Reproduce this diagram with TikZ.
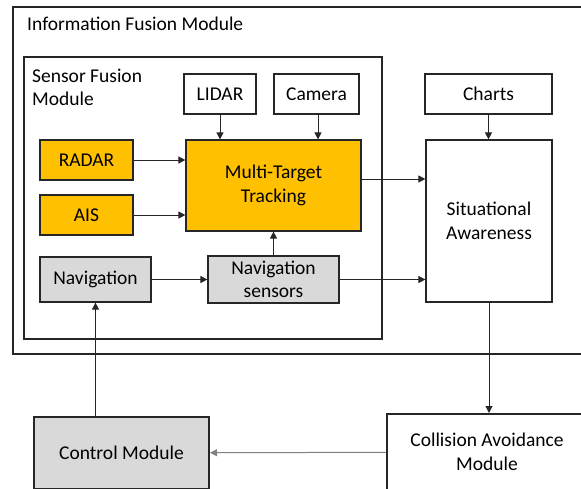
\documentclass[tikz,border=0pt]{standalone}
\usepackage{fontspec}
\setmainfont{Carlito}
\usetikzlibrary{arrows.meta,calc}
\usepackage{xcolor}
\definecolor{FusionOrange}{HTML}{FFC000}
\definecolor{FusionGrey}{HTML}{D9D9D9}
\definecolor{FusionLine}{HTML}{262626}

\begin{document}
\begin{tikzpicture}[>={Triangle[length=7pt,width=7pt]},x=1pt,y=-1pt,
    font=\fontsize{19.5}{23.5}\selectfont,
    box/.style={draw=FusionLine,line width=1.2pt,fill=white,align=center,inner sep=0pt},
    orangebox/.style={box,fill=FusionOrange},
    greybox/.style={box,fill=FusionGrey},
    modbox/.style={box,line width=2pt},
    link/.style={->,draw=FusionLine,line width=1pt}]
  \clip (0,0) rectangle (581,488);
  \useasboundingbox (0,0) rectangle (581,488);
  % module frames
  \draw[FusionLine,line width=2.2pt] (13,7) rectangle (620,354);
  \node[anchor=west,inner sep=0pt] (infotitle) at (27,24) {Information Fusion Module};
  \draw[FusionLine,line width=1.2pt] (24,57) rectangle (382,339);
  \node[anchor=west,align=left,inner sep=0pt] (sensortitle) at (32,87.5) {Sensor Fusion\\Module};
  % sensors and tracking
  \node[box,minimum width=72,minimum height=40] (lidar) at (220,94) {LIDAR};
  \node[box,minimum width=85,minimum height=40] (camera) at (316.5,94) {Camera};
  \node[box,minimum width=127,minimum height=40] (charts) at (488.5,94) {Charts};
  \node[orangebox,minimum width=93,minimum height=40] (radar) at (86.5,160) {RADAR};
  \node[orangebox,minimum width=93,minimum height=40] (ais) at (86.5,215) {AIS};
  \node[orangebox,minimum width=175,minimum height=91] (mtt) at (273.5,185.5) {Multi-Target\\Tracking};
  \node[box,minimum width=126,minimum height=162] (sa) at (489,221) {Situational\\Awareness};
  \node[greybox,minimum width=111,minimum height=45] (nav) at (95.5,279.5) {Navigation};
  \node[greybox,minimum width=131,minimum height=47] (navsens) at (273.5,279.5) {Navigation\\sensors};
  % lower modules
  \node[modbox,fill=FusionGrey,minimum width=175,minimum height=72] (control) at (121.5,453) {Control Module};
  \node[modbox,minimum width=200,minimum height=76] (collision) at (487,452) {Collision Avoidance\\Module};
  % connectors
  \draw[link] (lidar) -- (lidar |- mtt.north);
  \draw[link] ($(camera.south)+(1.5,0)$) -- ($(camera.south |- mtt.north)+(1.5,0)$);
  \draw[link] (charts) -- (charts |- sa.north);
  \draw[link] (radar) -- (radar -| mtt.west);
  \draw[link] (ais) -- (ais -| mtt.west);
  \draw[link] ($(mtt.east)+(0,-6.5)$) -- ($(mtt.east -| sa.west)+(0,-6.5)$);
  \draw[link] (navsens) -- (navsens -| sa.west);
  \draw[link] (nav) -- (navsens);
  \draw[link] (navsens) -- (mtt);
  \draw[link] (sa) -- (sa |- collision.north);
  \draw[link,draw=gray] (collision) -- (control);
  \draw[link] (nav |- control.north) -- (nav.south);
\end{tikzpicture}
\end{document}
